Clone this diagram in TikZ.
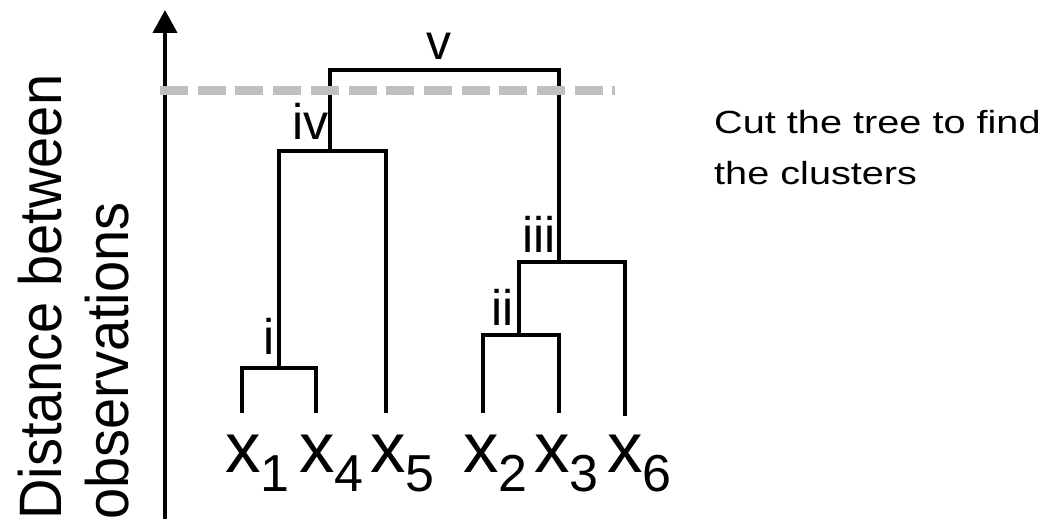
\documentclass[tikz,border=0pt]{standalone}
\usepackage{fontspec}
\setmainfont{Liberation Sans}
\usetikzlibrary{arrows.meta}

% leaf label: x with a lowered index
\newcommand{\leaflab}[1]{x\rlap{\raisebox{-19pt}{\fontsize{52}{52}\selectfont #1}}}

\tikzset{
  tree/.style={line width=4pt},
  lab/.style={inner sep=0pt, font=\fontsize{50}{50}\selectfont},
  leaf/.style={inner sep=0pt, anchor=base, font=\fontsize{71}{71}\selectfont},
  ylab/.style={inner sep=0pt, rotate=90, anchor=base west, font=\fontsize{56}{60}\selectfont},
  note/.style={inner sep=0pt, anchor=base west, font=\fontsize{32}{36}\selectfont},
  cutline/.style={line width=9pt, draw=gray!50, dash pattern=on 28pt off 9.7pt},
  axis/.style={line width=4pt, -{Triangle[width=24pt,length=23pt]}},
}

\begin{document}
\begin{tikzpicture}[x=1pt,y=1pt]
\useasboundingbox (0,0) rectangle (1047,521);

% LEAVES
\coordinate (t1) at (242,108);
\coordinate (t4) at (316,108);
\coordinate (t5) at (386,108);
\coordinate (t2) at (483,108);
\coordinate (t3) at (559,108);
\coordinate (t6) at (625,105);

\node[leaf] (x1) at (243,48) {\leaflab{1}};
\node[leaf] (x4) at (317,48) {\leaflab{4}};
\node[leaf] (x5) at (388,48) {\leaflab{5}};
\node[leaf] (x2) at (481,48) {\leaflab{2}};
\node[leaf] (x3) at (552,48) {\leaflab{3}};
\node[leaf] (x6) at (625,48) {\leaflab{6}};

% MERGES
\coordinate (ci)   at (279,153);
\coordinate (cii)  at (519,186);
\coordinate (ciii) at (559,259);
\coordinate (civ)  at (330,370);
\coordinate (cv)   at (440,451);

\draw[tree] (t1) |- (ci) -| (t4);
\draw[tree] (t2) |- (cii) -| (t3);
\draw[tree] (cii) |- (ciii) -| (t6);
\draw[tree] (ci) |- (civ) -| (t5);
\draw[tree] (civ) |- (cv) -| (ciii);

\node[lab, anchor=base east] (li)   at (275,166) {i};
\node[lab, anchor=base east] (lii)  at (514,195) {ii};
\node[lab, anchor=base east] (liii) at (556,268) {iii};
\node[lab, anchor=base east] (liv)  at (329,381) {iv};
\node[lab, anchor=base]      (lv)   at (439,461) {v};


% AXIS
\coordinate (a0) at (165,2);
\coordinate (a1) at (165,511);
\draw[axis] (a0) -- (a1);

\node[ylab] (d1) at (61,1)  {\scalebox{1}[1.07]{Distance between}};
\node[ylab] (d2) at (128,1) {\scalebox{1}[1.07]{observations}};


% CUT
\coordinate (k0) at (160,430);
\coordinate (k1) at (615,430);
\draw[cutline] (k0) -- (k1);

\node[note] (n1) at (714,387) {\scalebox{1.24}[1]{Cut the tree to find}};
\node[note] (n2) at (714,336) {\scalebox{1.24}[1]{the clusters}};

\end{tikzpicture}
\end{document}
